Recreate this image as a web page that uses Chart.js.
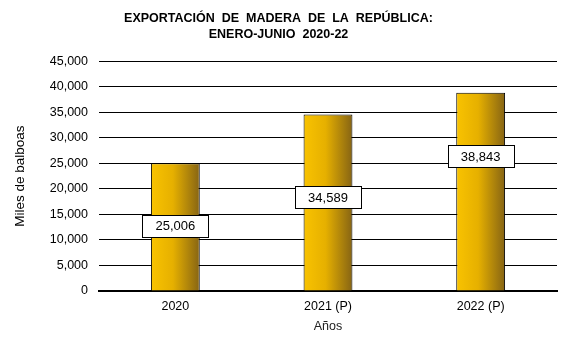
<!DOCTYPE html>
<html>
<head>
<meta charset="utf-8">
<script src="https://cdn.jsdelivr.net/npm/chart.js@4"></script>
<style>
  html, body { margin: 0; padding: 0; background: #fff; }
  #wrap { width: 562px; height: 346px; }
</style>
</head>
<body>
<div id="wrap"><canvas id="chart"></canvas></div>
<script>
const years = ['2020', '2021 (P)', '2022 (P)'];
const exports = [25006, 34589, 38843];
const yTicks = [0, 5000, 10000, 15000, 20000, 25000, 30000, 35000, 40000, 45000];

// where each value box sits, as a share of its bar's height
const boxLevels = [0.51, 0.53, 0.68];

const FONT = '"Liberation Sans", Arial, sans-serif';
const fmt = v => v.toLocaleString('en-US');

function barFill(ctx) {
  const chart = ctx.chart;
  const xs = chart.scales.x;
  if (!xs || !chart.chartArea) return '#E8B400';
  const cx = xs.getPixelForValue(ctx.dataIndex);
  const half = (xs.width / years.length) * 0.32 / 2;
  const g = chart.ctx.createLinearGradient(cx - half, 0, cx + half, 0);
  g.addColorStop(0, '#F9C300');
  g.addColorStop(0.45, '#E6B000');
  g.addColorStop(1, '#866414');
  return g;
}

const valueBoxes = {
  id: 'valueBoxes',
  afterDatasetsDraw(chart) {
    const ctx = chart.ctx;
    const xs = chart.scales.x, ys = chart.scales.y;
    ctx.save();
    ctx.font = '13px ' + FONT;
    ctx.textAlign = 'center';
    ctx.textBaseline = 'middle';
    exports.forEach((v, i) => {
      const x = xs.getPixelForValue(i);
      const y = ys.getPixelForValue(v * boxLevels[i]);
      const w = 66, h = 22;
      const left = Math.round(x - w / 2) + 0.5, top = Math.round(y - h / 2) + 0.5;
      ctx.fillStyle = '#fff';
      ctx.fillRect(left, top, w, h);
      ctx.strokeStyle = '#000';
      ctx.lineWidth = 1;
      ctx.strokeRect(left, top, w, h);
      ctx.fillStyle = '#000';
      ctx.fillText(fmt(v), x, y + 1);
    });
    ctx.restore();
  }
};

new Chart(document.getElementById('chart'), {
  type: 'bar',
  data: {
    labels: years,
    datasets: [{
      data: exports,
      backgroundColor: barFill,
      borderColor: '#000',
      borderWidth: 1,
      borderSkipped: 'bottom',
      barPercentage: 0.32,
      categoryPercentage: 1
    }]
  },
  options: {
    responsive: true,
    maintainAspectRatio: false,
    animation: false,
    layout: { padding: { top: 0, right: 5, bottom: 12, left: 0 } },
    plugins: {
      legend: { display: false },
      tooltip: { enabled: false },
      title: {
        display: true,
        text: ['EXPORTACIÓN  DE  MADERA  DE  LA  REPÚBLICA:', 'ENERO-JUNIO  2020-22'],
        color: '#000',
        font: { family: FONT, size: 12.5, weight: 'bold', lineHeight: 1.25 },
        padding: { top: 11, bottom: 19 }
      }
    },
    scales: {
      x: {
        grid: { display: false, drawTicks: false },
        border: { color: '#000', width: 2 },
        ticks: { color: '#000', font: { family: FONT, size: 12.5 }, padding: 8 },
        title: {
          display: true,
          text: 'Años',
          color: '#222',
          font: { family: FONT, size: 12.5 },
          padding: { top: -3, bottom: 0 }
        }
      },
      y: {
        min: 0,
        max: 45000,
        afterBuildTicks: s => { s.ticks = yTicks.map(v => ({ value: v })); },
        afterFit: s => { s.width = 99; },
        grid: { color: '#000', lineWidth: 1, drawTicks: false },
        border: { display: false },
        ticks: {
          color: '#000',
          font: { family: FONT, size: 12.5 },
          padding: 11,
          callback: v => fmt(v)
        },
        title: {
          display: true,
          text: 'Miles de balboas',
          color: '#000',
          font: { family: FONT, size: 13.5 },
          padding: { top: 12, bottom: 0 }
        }
      }
    }
  },
  plugins: [valueBoxes]
});
</script>
</body>
</html>
